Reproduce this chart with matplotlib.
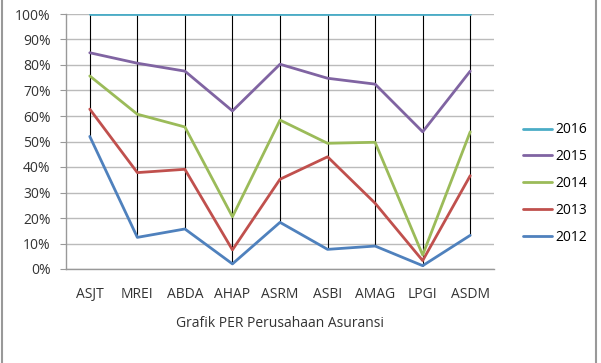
import numpy as np
import matplotlib.pyplot as plt
from matplotlib.lines import Line2D

plt.rcParams['font.family'] = ['Open Sans', 'DejaVu Sans']

companies = ['ASJT', 'MREI', 'ABDA', 'AHAP', 'ASRM', 'ASBI', 'AMAG', 'LPGI', 'ASDM']
# cumulative share (100% stacked line)
y2012 = [52.0, 12.4, 15.7, 2.0, 18.3, 7.7, 9.0, 1.3, 13.2]
y2013 = [62.7, 37.8, 39.1, 7.5, 35.2, 44.0, 25.8, 3.3, 36.6]
y2014 = [75.7, 60.7, 55.7, 20.5, 58.4, 49.3, 49.7, 5.5, 53.8]
y2015 = [84.8, 80.7, 77.6, 62.0, 80.3, 74.8, 72.5, 53.8, 77.6]
y2016 = [100, 100, 100, 100, 100, 100, 100, 100, 100]

fig = plt.figure(figsize=(6.01, 3.63), dpi=100)
ax = fig.add_axes([66/601, 1 - 269/363, 428/601, 255/363])

x = np.arange(len(companies))

# high-low lines
ax.vlines(x, y2012, y2016, color='black', linewidth=0.8, zorder=2)

series = [('2012', y2012, '#4F81BD'),
          ('2013', y2013, '#C0504D'),
          ('2014', y2014, '#9BBB59'),
          ('2015', y2015, '#8064A2'),
          ('2016', y2016, '#4BACC6')]
lines = []
for name, vals, col in series:
    ln, = ax.plot(x, vals, color=col, linewidth=2.0, label=name, zorder=3,
                  solid_capstyle='round', solid_joinstyle='round')
    lines.append(ln)

ax.set_xlim(-0.5, len(companies) - 0.5)
ax.set_ylim(0, 100)
ax.set_yticks(np.arange(0, 101, 10))
ax.set_yticklabels([f'{v}%' for v in range(0, 101, 10)], fontsize=10, color='#333333')
ax.set_xticks(x)
ax.set_xticklabels(companies, fontsize=10, color='#333333')
ax.tick_params(axis='x', length=0, pad=13)
ax.tick_params(axis='y', length=4, color='#999999', direction='out', pad=7)
ax.yaxis.grid(True, color='#BBBBBB', linewidth=1)
ax.set_axisbelow(True)
for s in ['top', 'right']:
    ax.spines[s].set_visible(False)
for s in ['left', 'bottom']:
    ax.spines[s].set_color('#999999')
    ax.spines[s].set_linewidth(1)
ax.set_xlabel('Grafik PER Perusahaan Asuransi', fontsize=10, color='#333333', labelpad=10)

handles = lines[::-1]
fig.legend(handles, [h.get_label() for h in handles], loc='upper left',
           bbox_to_anchor=(510/601, 1 - 110/363), frameon=False, fontsize=10,
           handlelength=2.1, labelspacing=0.85, handletextpad=0.3)

fig.add_artist(Line2D([1.5/601, 1.5/601], [0, 1], color='#999999', linewidth=1.5))
fig.add_artist(Line2D([596/601, 596/601], [0, 1], color='#999999', linewidth=1.5))

fig.savefig('out.png', dpi=100)
